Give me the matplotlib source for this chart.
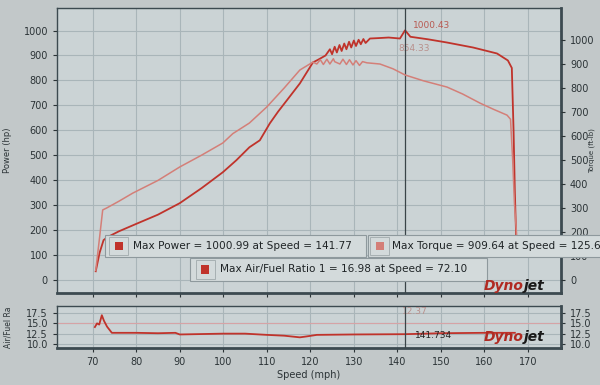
import numpy as np
import matplotlib.pyplot as plt
from matplotlib.patches import Rectangle

# Power curve (hp, left axis)
power_speed = [70.7, 71.6, 72.5, 73.4, 76, 80, 85, 90, 95, 99.9, 103, 106, 108.4, 110.7,
               112.6, 114.6, 117.6, 120.6, 122.0, 123.5, 124.5, 125.0, 125.6, 126.1, 126.7,
               127.2, 127.8, 128.3, 128.9, 129.4, 130.0, 130.5, 131.1, 131.6, 132.2, 132.7,
               133.7, 136, 138, 140.6, 141.77, 143, 147, 151.4, 157.4, 162.9, 165.4, 166.3,
               166.7, 167.0, 167.3]
power_hp = [35, 110, 160, 172, 195, 225, 262, 308, 368, 432, 480, 532, 560, 628,
            675, 720, 788, 872, 885, 900, 925, 905, 935, 912, 942, 918, 948, 925, 955, 932,
            960, 938, 963, 945, 966, 950, 968, 970, 972, 968, 1000.99, 975, 965, 952, 932,
            908, 880, 850, 600, 350, 170]

# Torque curve (ft-lb, right axis)
torque_speed = [70.7, 71.6, 72.3, 73.2, 76, 79.2, 85, 90, 95, 99.9, 102.2, 106, 110, 114,
                117.6, 120.6, 121.5, 122.3, 123.0, 123.8, 124.5, 125.3, 125.6, 126.8, 127.5,
                128.3, 129.0, 129.8, 130.5, 131.3, 132.0, 133, 136, 139, 141.77, 146, 151.4,
                155, 159, 162, 165.2, 166.0, 166.5, 166.9, 167.4]
torque_ft = [40, 180, 292, 300, 328, 362, 415, 471, 520, 571, 610, 654, 721, 800,
             875, 908, 900, 918, 898, 920, 900, 922, 909.64, 900, 920, 898, 918, 896, 914,
             894, 910, 905, 900, 880, 854.33, 830, 804, 775, 737, 712, 687, 670, 500, 320, 190]

# Air/fuel ratio (lower panel)
afr_speed = [70.5, 71.0, 71.5, 72.1, 72.6, 73.3, 74.4, 80, 85, 89, 90, 95, 100, 105, 110,
             114, 117.6, 119, 121.5, 130, 141.77, 150, 160, 167]
afr = [14.1, 15.0, 14.7, 16.98, 15.6, 14.2, 12.7, 12.7, 12.6, 12.7, 12.3, 12.4, 12.5, 12.5,
       12.2, 12.0, 11.6, 11.8, 12.2, 12.3, 12.37, 12.6, 12.7, 12.7]

cursor_speed = 141.77

legend_texts = ['Max Power = 1000.99 at Speed = 141.77',
                'Max Torque = 909.64 at Speed = 125.6',
                'Max Air/Fuel Ratio 1 = 16.98 at Speed = 72.10']

power_col = '#c0332b'
torque_col = '#d47f78'
grid_col = '#a9b5b9'
spine_col = '#3c4a50'

fig = plt.figure(figsize=(6, 3.85), dpi=100, facecolor='#c2c8c9')

ax = fig.add_axes([0.095, 0.239, 0.84, 0.74], facecolor='#cbd3d5')
ax2 = ax.twinx()
axa = fig.add_axes([0.095, 0.096, 0.84, 0.109], facecolor='#cbd3d5')

for a in (ax, axa):
    a.set_xlim(61.8, 177.6)
    a.set_xticks(np.arange(70, 171, 10))
    a.grid(True, color=grid_col, linewidth=0.8)
    a.set_axisbelow(True)
    a.axvline(cursor_speed, color='#3a4448', linewidth=0.9, zorder=4)
    for s in a.spines.values():
        s.set_color(spine_col)
        s.set_linewidth(1.0)
    a.spines['bottom'].set_linewidth(2.0)
    a.spines['right'].set_linewidth(2.0)
    a.tick_params(colors='#2b3336', labelsize=7, length=3)

ax.set_ylim(-52, 1090)
ax.set_yticks(np.arange(0, 1001, 100))
ax.tick_params(labelbottom=False)
ax.set_ylabel('Power (hp)', fontsize=6, color='#2b3336', labelpad=8)

ax2.set_ylim(-54, 1133)
ax2.set_yticks(np.arange(0, 1001, 100))
ax2.tick_params(colors='#2b3336', labelsize=7, length=3)
ax2.set_ylabel('Torque (ft-lb)', fontsize=5, color='#2b3336')
ax2.yaxis.set_label_coords(1.054, 0.5)
for s in ax2.spines.values():
    s.set_visible(False)

ax.plot(power_speed, power_hp, color=power_col, linewidth=1.3, zorder=3)
ax2.plot(torque_speed, torque_ft, color=torque_col, linewidth=1.1, zorder=3)

ax.text(143.5, 1010, '1000.43', fontsize=6.5, color='#b85a52')
ax.text(140.3, 918, '854.33', fontsize=6.5, color='#b8908c')

axa.set_ylim(9.0, 19.2)
axa.set_yticks([10.0, 12.5, 15.0, 17.5])
axa.yaxis.tick_right()
axa.tick_params(labelleft=True, left=True)
axa.axhline(15.0, color='#d6a3a6', linewidth=0.8, zorder=1)
axa.plot(afr_speed, afr, color=power_col, linewidth=1.3, zorder=3)
axa.set_ylabel('Air/Fuel Ra', fontsize=5.5, color='#2b3336', labelpad=10)
axa.set_xlabel('Speed (mph)', fontsize=7, color='#2b3336', labelpad=2)
axa.text(141.0, 17.3, '12.37', fontsize=6.5, color='#b8908c')
axa.text(144.0, 11.4, '141.734', fontsize=6.5, color='#222222')

# legend-style boxes: (box x0, y0, w, h, marker x, text x, colour)
boxes = [(0.175, 0.333, 0.435, 0.057, 0.198, 0.222, power_col),
         (0.613, 0.333, 0.420, 0.057, 0.633, 0.653, torque_col),
         (0.317, 0.270, 0.495, 0.060, 0.342, 0.367, power_col)]
for (x0, y0, w, h, mx, tx, col), txt in zip(boxes, legend_texts):
    fig.patches.append(Rectangle((x0, y0), w, h, transform=fig.transFigure,
                                 facecolor='#d3dadb', edgecolor='#8e999d',
                                 linewidth=0.8, zorder=5))
    cy = y0 + h / 2
    fig.patches.append(Rectangle((mx - 0.016, cy - 0.024), 0.032, 0.048,
                                 transform=fig.transFigure, facecolor='#d3dadb',
                                 edgecolor='#a0a9ac', linewidth=0.6, zorder=6))
    fig.patches.append(Rectangle((mx - 0.007, cy - 0.011), 0.014, 0.022,
                                 transform=fig.transFigure, facecolor=col,
                                 edgecolor='none', zorder=7))
    fig.text(tx, cy, txt, fontsize=7.6, color='#1f2426', va='center', zorder=8)

# Dynojet marks
for y in (0.257, 0.125):
    fig.text(0.873, y, 'Dyno', fontsize=10, fontweight='bold', style='italic',
             color='#b02a22', ha='right', va='center', zorder=8)
    fig.text(0.873, y, 'jet', fontsize=10, fontweight='bold', style='italic',
             color='#1a1a1a', ha='left', va='center', zorder=8)

fig.savefig('out.png', dpi=100, facecolor=fig.get_facecolor())
